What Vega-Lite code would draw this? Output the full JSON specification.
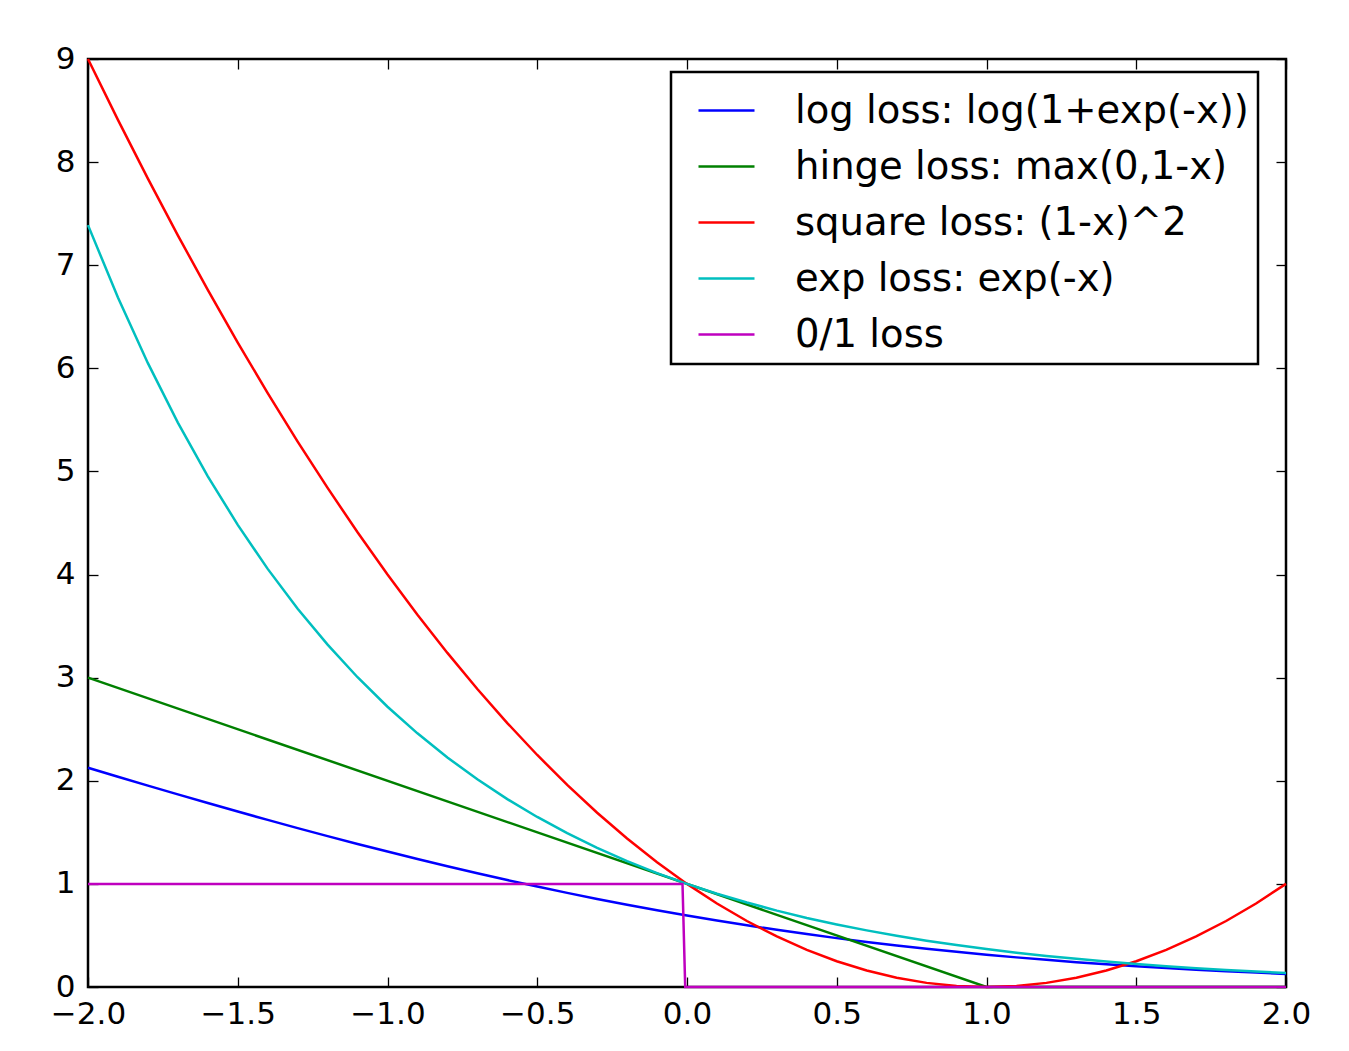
{
  "$schema": "https://vega.github.io/schema/vega-lite/v6.json",
  "width": 1198,
  "height": 928,
  "autosize": {"type": "none"},
  "padding": {"left": 88, "top": 59, "right": 63, "bottom": 64},
  "background": "white",
  "config": {
    "view": {"stroke": "black", "strokeWidth": 2.5},
    "font": "DejaVu Sans",
    "axis": {"grid": false, "domain": false, "ticks": true, "tickSize": -10, "tickColor": "black", "tickWidth": 1.3, "labelFont": "DejaVu Sans", "labelFontSize": 31, "labelColor": "black", "title": null},
    "legend": {"strokeWidth": 2.5}
  },
  "data": {"values": [
    {"s": "log loss: log(1+exp(-x))", "x": -2.0, "y": 2.1269},
    {"s": "log loss: log(1+exp(-x))", "x": -1.9, "y": 2.0394},
    {"s": "log loss: log(1+exp(-x))", "x": -1.8, "y": 1.9530},
    {"s": "log loss: log(1+exp(-x))", "x": -1.7, "y": 1.8677},
    {"s": "log loss: log(1+exp(-x))", "x": -1.6, "y": 1.7839},
    {"s": "log loss: log(1+exp(-x))", "x": -1.5, "y": 1.7014},
    {"s": "log loss: log(1+exp(-x))", "x": -1.4, "y": 1.6204},
    {"s": "log loss: log(1+exp(-x))", "x": -1.3, "y": 1.5410},
    {"s": "log loss: log(1+exp(-x))", "x": -1.2, "y": 1.4633},
    {"s": "log loss: log(1+exp(-x))", "x": -1.1, "y": 1.3873},
    {"s": "log loss: log(1+exp(-x))", "x": -1.0, "y": 1.3133},
    {"s": "log loss: log(1+exp(-x))", "x": -0.9, "y": 1.2412},
    {"s": "log loss: log(1+exp(-x))", "x": -0.8, "y": 1.1712},
    {"s": "log loss: log(1+exp(-x))", "x": -0.7, "y": 1.1032},
    {"s": "log loss: log(1+exp(-x))", "x": -0.6, "y": 1.0375},
    {"s": "log loss: log(1+exp(-x))", "x": -0.5, "y": 0.9741},
    {"s": "log loss: log(1+exp(-x))", "x": -0.4, "y": 0.9130},
    {"s": "log loss: log(1+exp(-x))", "x": -0.3, "y": 0.8544},
    {"s": "log loss: log(1+exp(-x))", "x": -0.2, "y": 0.7981},
    {"s": "log loss: log(1+exp(-x))", "x": -0.1, "y": 0.7444},
    {"s": "log loss: log(1+exp(-x))", "x": 0.0, "y": 0.6931},
    {"s": "log loss: log(1+exp(-x))", "x": 0.1, "y": 0.6444},
    {"s": "log loss: log(1+exp(-x))", "x": 0.2, "y": 0.5981},
    {"s": "log loss: log(1+exp(-x))", "x": 0.3, "y": 0.5544},
    {"s": "log loss: log(1+exp(-x))", "x": 0.4, "y": 0.5130},
    {"s": "log loss: log(1+exp(-x))", "x": 0.5, "y": 0.4741},
    {"s": "log loss: log(1+exp(-x))", "x": 0.6, "y": 0.4375},
    {"s": "log loss: log(1+exp(-x))", "x": 0.7, "y": 0.4032},
    {"s": "log loss: log(1+exp(-x))", "x": 0.8, "y": 0.3711},
    {"s": "log loss: log(1+exp(-x))", "x": 0.9, "y": 0.3412},
    {"s": "log loss: log(1+exp(-x))", "x": 1.0, "y": 0.3133},
    {"s": "log loss: log(1+exp(-x))", "x": 1.1, "y": 0.2873},
    {"s": "log loss: log(1+exp(-x))", "x": 1.2, "y": 0.2633},
    {"s": "log loss: log(1+exp(-x))", "x": 1.3, "y": 0.2410},
    {"s": "log loss: log(1+exp(-x))", "x": 1.4, "y": 0.2204},
    {"s": "log loss: log(1+exp(-x))", "x": 1.5, "y": 0.2014},
    {"s": "log loss: log(1+exp(-x))", "x": 1.6, "y": 0.1839},
    {"s": "log loss: log(1+exp(-x))", "x": 1.7, "y": 0.1678},
    {"s": "log loss: log(1+exp(-x))", "x": 1.8, "y": 0.1530},
    {"s": "log loss: log(1+exp(-x))", "x": 1.9, "y": 0.1394},
    {"s": "log loss: log(1+exp(-x))", "x": 2.0, "y": 0.1269},
    {"s": "hinge loss: max(0,1-x)", "x": -2.0, "y": 3},
    {"s": "hinge loss: max(0,1-x)", "x": 1.0, "y": 0},
    {"s": "hinge loss: max(0,1-x)", "x": 2.0, "y": 0},
    {"s": "square loss: (1-x)^2", "x": -2.0, "y": 9},
    {"s": "square loss: (1-x)^2", "x": -1.9, "y": 8.41},
    {"s": "square loss: (1-x)^2", "x": -1.8, "y": 7.84},
    {"s": "square loss: (1-x)^2", "x": -1.7, "y": 7.29},
    {"s": "square loss: (1-x)^2", "x": -1.6, "y": 6.76},
    {"s": "square loss: (1-x)^2", "x": -1.5, "y": 6.25},
    {"s": "square loss: (1-x)^2", "x": -1.4, "y": 5.76},
    {"s": "square loss: (1-x)^2", "x": -1.3, "y": 5.29},
    {"s": "square loss: (1-x)^2", "x": -1.2, "y": 4.84},
    {"s": "square loss: (1-x)^2", "x": -1.1, "y": 4.41},
    {"s": "square loss: (1-x)^2", "x": -1.0, "y": 4},
    {"s": "square loss: (1-x)^2", "x": -0.9, "y": 3.61},
    {"s": "square loss: (1-x)^2", "x": -0.8, "y": 3.24},
    {"s": "square loss: (1-x)^2", "x": -0.7, "y": 2.89},
    {"s": "square loss: (1-x)^2", "x": -0.6, "y": 2.56},
    {"s": "square loss: (1-x)^2", "x": -0.5, "y": 2.25},
    {"s": "square loss: (1-x)^2", "x": -0.4, "y": 1.96},
    {"s": "square loss: (1-x)^2", "x": -0.3, "y": 1.69},
    {"s": "square loss: (1-x)^2", "x": -0.2, "y": 1.44},
    {"s": "square loss: (1-x)^2", "x": -0.1, "y": 1.21},
    {"s": "square loss: (1-x)^2", "x": 0.0, "y": 1},
    {"s": "square loss: (1-x)^2", "x": 0.1, "y": 0.81},
    {"s": "square loss: (1-x)^2", "x": 0.2, "y": 0.64},
    {"s": "square loss: (1-x)^2", "x": 0.3, "y": 0.49},
    {"s": "square loss: (1-x)^2", "x": 0.4, "y": 0.36},
    {"s": "square loss: (1-x)^2", "x": 0.5, "y": 0.25},
    {"s": "square loss: (1-x)^2", "x": 0.6, "y": 0.16},
    {"s": "square loss: (1-x)^2", "x": 0.7, "y": 0.09},
    {"s": "square loss: (1-x)^2", "x": 0.8, "y": 0.04},
    {"s": "square loss: (1-x)^2", "x": 0.9, "y": 0.01},
    {"s": "square loss: (1-x)^2", "x": 1.0, "y": 0},
    {"s": "square loss: (1-x)^2", "x": 1.1, "y": 0.01},
    {"s": "square loss: (1-x)^2", "x": 1.2, "y": 0.04},
    {"s": "square loss: (1-x)^2", "x": 1.3, "y": 0.09},
    {"s": "square loss: (1-x)^2", "x": 1.4, "y": 0.16},
    {"s": "square loss: (1-x)^2", "x": 1.5, "y": 0.25},
    {"s": "square loss: (1-x)^2", "x": 1.6, "y": 0.36},
    {"s": "square loss: (1-x)^2", "x": 1.7, "y": 0.49},
    {"s": "square loss: (1-x)^2", "x": 1.8, "y": 0.64},
    {"s": "square loss: (1-x)^2", "x": 1.9, "y": 0.81},
    {"s": "square loss: (1-x)^2", "x": 2.0, "y": 1},
    {"s": "exp loss: exp(-x)", "x": -2.0, "y": 7.389},
    {"s": "exp loss: exp(-x)", "x": -1.9, "y": 6.686},
    {"s": "exp loss: exp(-x)", "x": -1.8, "y": 6.050},
    {"s": "exp loss: exp(-x)", "x": -1.7, "y": 5.474},
    {"s": "exp loss: exp(-x)", "x": -1.6, "y": 4.953},
    {"s": "exp loss: exp(-x)", "x": -1.5, "y": 4.482},
    {"s": "exp loss: exp(-x)", "x": -1.4, "y": 4.055},
    {"s": "exp loss: exp(-x)", "x": -1.3, "y": 3.669},
    {"s": "exp loss: exp(-x)", "x": -1.2, "y": 3.320},
    {"s": "exp loss: exp(-x)", "x": -1.1, "y": 3.004},
    {"s": "exp loss: exp(-x)", "x": -1.0, "y": 2.718},
    {"s": "exp loss: exp(-x)", "x": -0.9, "y": 2.460},
    {"s": "exp loss: exp(-x)", "x": -0.8, "y": 2.226},
    {"s": "exp loss: exp(-x)", "x": -0.7, "y": 2.014},
    {"s": "exp loss: exp(-x)", "x": -0.6, "y": 1.822},
    {"s": "exp loss: exp(-x)", "x": -0.5, "y": 1.649},
    {"s": "exp loss: exp(-x)", "x": -0.4, "y": 1.492},
    {"s": "exp loss: exp(-x)", "x": -0.3, "y": 1.350},
    {"s": "exp loss: exp(-x)", "x": -0.2, "y": 1.221},
    {"s": "exp loss: exp(-x)", "x": -0.1, "y": 1.105},
    {"s": "exp loss: exp(-x)", "x": 0.0, "y": 1.0},
    {"s": "exp loss: exp(-x)", "x": 0.1, "y": 0.905},
    {"s": "exp loss: exp(-x)", "x": 0.2, "y": 0.819},
    {"s": "exp loss: exp(-x)", "x": 0.3, "y": 0.741},
    {"s": "exp loss: exp(-x)", "x": 0.4, "y": 0.670},
    {"s": "exp loss: exp(-x)", "x": 0.5, "y": 0.607},
    {"s": "exp loss: exp(-x)", "x": 0.6, "y": 0.549},
    {"s": "exp loss: exp(-x)", "x": 0.7, "y": 0.497},
    {"s": "exp loss: exp(-x)", "x": 0.8, "y": 0.449},
    {"s": "exp loss: exp(-x)", "x": 0.9, "y": 0.407},
    {"s": "exp loss: exp(-x)", "x": 1.0, "y": 0.368},
    {"s": "exp loss: exp(-x)", "x": 1.1, "y": 0.333},
    {"s": "exp loss: exp(-x)", "x": 1.2, "y": 0.301},
    {"s": "exp loss: exp(-x)", "x": 1.3, "y": 0.273},
    {"s": "exp loss: exp(-x)", "x": 1.4, "y": 0.247},
    {"s": "exp loss: exp(-x)", "x": 1.5, "y": 0.223},
    {"s": "exp loss: exp(-x)", "x": 1.6, "y": 0.202},
    {"s": "exp loss: exp(-x)", "x": 1.7, "y": 0.183},
    {"s": "exp loss: exp(-x)", "x": 1.8, "y": 0.165},
    {"s": "exp loss: exp(-x)", "x": 1.9, "y": 0.150},
    {"s": "exp loss: exp(-x)", "x": 2.0, "y": 0.135},
    {"s": "0/1 loss", "x": -2.0, "y": 1},
    {"s": "0/1 loss", "x": -0.015, "y": 1},
    {"s": "0/1 loss", "x": -0.006, "y": 0},
    {"s": "0/1 loss", "x": 2.0, "y": 0}
  ]},
  "resolve": {"axis": {"x": "independent", "y": "independent"}},
  "layer": [
    {
      "mark": {"type": "line", "strokeWidth": 2.5},
      "encoding": {
        "x": {"field": "x", "type": "quantitative", "scale": {"domain": [-2, 2], "nice": false, "zero": false},
              "axis": {"orient": "bottom", "values": [-2, -1.5, -1, -0.5, 0, 0.5, 1, 1.5, 2], "format": ".1f", "labelPadding": 22, "labelFlush": false, "labelOverlap": false}},
        "y": {"field": "y", "type": "quantitative", "scale": {"domain": [0, 9], "nice": false},
              "axis": {"orient": "left", "values": [0, 1, 2, 3, 4, 5, 6, 7, 8, 9], "format": "d", "labelPadding": 23, "labelFlush": false, "labelOverlap": false}},
        "color": {"field": "s", "type": "nominal",
                  "scale": {"domain": ["log loss: log(1+exp(-x))", "hinge loss: max(0,1-x)", "square loss: (1-x)^2", "exp loss: exp(-x)", "0/1 loss"],
                            "range": ["#0000ff", "#008000", "#ff0000", "#00bfbf", "#bf00bf"]},
                  "legend": {"orient": "none", "legendX": 583, "legendY": 13, "title": null, "symbolType": "stroke", "symbolSize": 3136, "symbolStrokeWidth": 2.5,
                             "labelFontSize": 38.6, "labelFont": "DejaVu Sans", "labelColor": "black", "labelOffset": 39, "labelLimit": 0,
                             "padding": 9, "symbolOffset": 17, "rowPadding": 6, "fillColor": "white", "strokeColor": "black"}}
      }
    },
    {
      "mark": {"type": "line", "opacity": 0},
      "encoding": {
        "x": {"field": "x", "type": "quantitative", "axis": {"orient": "top", "values": [-2, -1.5, -1, -0.5, 0, 0.5, 1, 1.5, 2], "labels": false}},
        "y": {"field": "y", "type": "quantitative", "axis": {"orient": "right", "values": [0, 1, 2, 3, 4, 5, 6, 7, 8, 9], "labels": false}},
        "detail": {"field": "s"}
      }
    }
  ]
}
